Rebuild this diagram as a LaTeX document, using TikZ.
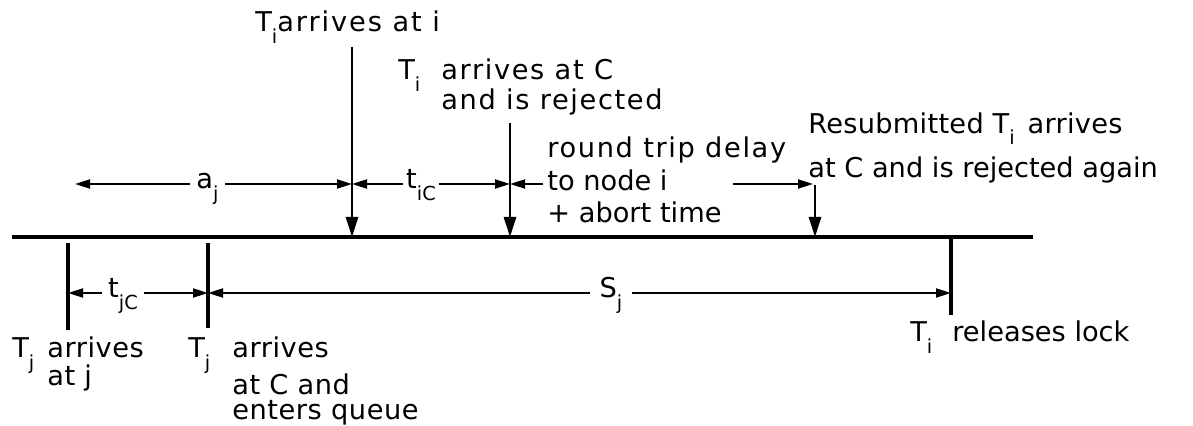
\documentclass[tikz,border=0pt]{standalone}
\usepackage{fontspec}
\setmainfont{DejaVu Sans}
\usetikzlibrary{arrows.meta}
\newcommand{\sub}[1]{\raisebox{-6.5pt}{\fontsize{11}{11}\selectfont #1}}
\newcommand{\track}[1]{\addfontfeature{LetterSpace=#1}}
\tikzset{
  timeline/.style={line width=2.8pt},
  event/.style={-{Triangle[length=4mm,width=2.4mm]}, line width=1.6pt},
  tickline/.style={line width=2.2pt},
  dim/.style={-{Triangle[length=3mm,width=1.8mm]}, line width=1.1pt},
  lbl/.style={inner sep=0pt, anchor=base west, font=\fontsize{15.5}{17}\selectfont},
  dimlbl/.style={inner ysep=0pt, inner xsep=0.12cm, anchor=mid,
                 font=\fontsize{15.5}{17}\selectfont},
}
\begin{document}
\begin{tikzpicture}
  \useasboundingbox (0,0) rectangle (23.86,8.52);
  % time axis
  \coordinate (t0) at (0.24,3.78);
  \coordinate (t1) at (20.66,3.78);
  \draw[timeline] (t0) -- (t1);
  % arrivals at C
  \foreach \n/\x/\t in {1/7.04/7.58,2/10.20/6.06,3/16.30/4.82}{
    \coordinate (s\n) at (\x,\t);
    \coordinate (e\n) at (\x,3.78);
    \draw[event] (s\n) -- (e\n);
  }
  % ticks below the axis
  \foreach \n/\x/\a/\b in {1/1.36/3.66/1.92,2/4.16/3.66/1.96,3/19.02/3.76/2.22}{
    \coordinate (k\n) at (\x,2.66);
    \draw[tickline] (\x,\a) -- (\x,\b);
  }
  \node[lbl] (arrI) at (5.10,7.88) {\track{7}T\sub{i}arrives at i};
  \node[lbl] (rejC) at (7.96,6.92)
       {\track{6}T\sub{i}\hspace{0.42cm}\vtop{\hbox{arrives at C}\hbox{and is rejected}}};
  % multi-line nodes sit on their last line
  \node[lbl,align=left,font=\fontsize{15.5}{18.5}\selectfont] (rtd) at (10.94,4.06)
       {\track{6}round trip delay\\to node i\\+ abort time};
  \node[lbl,align=left,font=\fontsize{15.5}{25.6}\selectfont] (resub) at (16.16,4.96)
       {\track{1}Resubmitted T\sub{i} \hspace{0.08cm}arrives\\at C and is rejected again};
  \node[lbl,font=\fontsize{15.5}{15.8}\selectfont] (arrJ) at (0.24,1.36)
       {\track{2}T\sub{j}\hspace{0.26cm}\vtop{\hbox{arrives}\hbox{at j}}};
  \node[lbl,font=\fontsize{15.5}{20.5}\selectfont] (queue) at (3.76,1.36)
       {\track{2}T\sub{j}\hspace{0.44cm}\vtop{\hbox{arrives}\hbox{at C and}\vskip-6pt\hbox{enters queue}}};
  \node[lbl] (rel) at (18.20,1.68) {T\sub{i}\hspace{0.4cm}releases lock};
  % intervals
  \coordinate (d1) at (7.04,4.84);
  \coordinate (d2) at (10.20,4.84);
  \coordinate (d3) at (16.26,4.84);
  \coordinate (ajL) at (1.50,4.84);
  \coordinate (rtdR) at (14.66,4.84);
  \node[dimlbl] (aj) at (4.15,4.84) {a\sub{j}};
  \node[dimlbl,inner xsep=0.06cm] (tic) at (8.42,4.84) {t\sub{iC}};
  \node[dimlbl] (tjc) at (2.46,2.66) {t\sub{jC}};
  \node[dimlbl,inner xsep=0.18cm] (sj) at (12.22,2.66) {S\sub{j}};
  \draw[dim] (aj.mid west) -- (ajL);
  \draw[dim] (aj.mid east) -- (d1);
  \draw[dim] (tic.mid west) -- (d1);
  \draw[dim] (tic.mid east) -- (d2);
  \draw[dim] ([xshift=-2pt]rtd.west |- d2) -- (d2);
  \draw[dim] (rtdR) -- (d3);
  \draw[dim] (tjc.mid west) -- (k1);
  \draw[dim] (tjc.mid east) -- (k2);
  \draw[dim] (sj.mid west) -- (k2);
  \draw[dim] (sj.mid east) -- (k3);
\end{tikzpicture}
\end{document}
